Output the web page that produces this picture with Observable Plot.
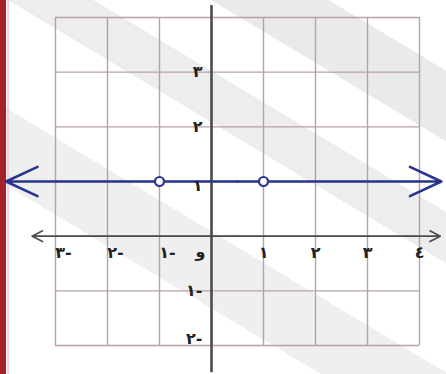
<!DOCTYPE html>
<html>
<head>
<meta charset="utf-8">
<script src="https://cdn.jsdelivr.net/npm/d3@7"></script>
<script src="https://cdn.jsdelivr.net/npm/@observablehq/plot@0.6"></script>
<style>
  html, body { margin: 0; padding: 0; background: #fff; }
  #wrap {
    position: relative; width: 446px; height: 374px; overflow: hidden;
    background: linear-gradient(31deg,
      transparent 30%, #efefef 30%, #efefef 42%, transparent 42%,
      transparent 59%, #ededed 59%, #ededed 67%, transparent 67%,
      transparent 78%, #eaeaea 78%, #eaeaea 89%, transparent 89%);
  }
  #bar { position: absolute; left: 0; top: 0; width: 6px; height: 374px; background: #a3202c; }
  #bar2 { position: absolute; left: 7px; top: 0; width: 2px; height: 374px; background: #f3d3d8; }
  #wrap svg { position: absolute; left: 0; top: 0; }
</style>
</head>
<body>
<div id="wrap"><div id="bar"></div><div id="bar2"></div></div>
<script>
// grid values
const xGrid = [-3, -2, -1, 0, 1, 2, 3, 4];
const yGrid = [-2, -1, 0, 1, 2, 3, 4];
// tick labels (Arabic numerals, origin labelled "و")
const xNegTicks = [-3, -2, -1];
const xNegLabels = ["٣-", "٢-", "١-"];
const xPosTicks = [1, 2, 3, 4];
const xPosLabels = ["١", "٢", "٣", "٤"];
const originLabel = "و";
const yTicks = [3, 2, -1];
const yLabels = ["٣", "٢", "١-"];
const yOneLabel = "١";
const yBottomLabel = "٢-";
// the graphed function: horizontal line y = 1 with holes at x = -1 and x = 1
const lineY = 1;
const lineLeft = -3.95, lineRight = 4.42;
const holesX = [-1, 1];
// axes extents
const xAxisLeft = -3.45, xAxisRight = 4.4;
const yAxisBottom = -2.5, yAxisTop = 4.22;

const blue = "#2a3591";
const gridColor = "#b99fab";
const axisColor = "#4d4d4d";
const font = { fontSize: 16, fontWeight: "bold", fill: "#222", fontFamily: "DejaVu Sans" };

const chart = Plot.plot({
  width: 446,
  height: 374,
  marginLeft: 55,
  marginRight: 27,
  marginTop: 17,
  marginBottom: 29,
  x: { domain: [-3, 4], axis: null },
  y: { domain: [-2, 4], axis: null },
  style: { background: "transparent", overflow: "visible" },
  marks: [
    Plot.ruleX(xGrid, { stroke: gridColor, strokeWidth: 1.4 }),
    Plot.ruleY(yGrid, { stroke: gridColor, strokeWidth: 1.4 }),
    // x axis (double arrow)
    Plot.arrow([{ a: 0.5, b: xAxisLeft }, { a: 0.5, b: xAxisRight }], {
      x1: "a", x2: "b", y1: () => 0, y2: () => 0,
      stroke: axisColor, strokeWidth: 1.6, headLength: 11, headAngle: 55
    }),
    // y axis
    Plot.ruleX([0], { y1: yAxisBottom, y2: yAxisTop, stroke: axisColor, strokeWidth: 2.6 }),
    // blue line with arrows both ends
    Plot.arrow([{ a: 0.5, b: lineLeft }, { a: 0.5, b: lineRight }], {
      x1: "a", x2: "b", y1: () => lineY, y2: () => lineY,
      stroke: blue, strokeWidth: 2.6, headLength: 20, headAngle: 50
    }),
    Plot.dot(holesX, { x: d => d, y: () => lineY, r: 4.5, fill: "white", stroke: blue, strokeWidth: 2.2 }),
    // x tick labels
    Plot.text(xNegTicks, { x: d => d, y: () => 0, text: (d, i) => xNegLabels[i], dy: 17, dx: 8, ...font }),
    Plot.text(xPosTicks, { x: d => d, y: () => 0, text: (d, i) => xPosLabels[i], dy: 17, ...font }),
    Plot.text([0], { x: d => d, y: () => 0, text: () => originLabel, dy: 16, dx: -11, ...font }),
    // y tick labels
    Plot.text(yTicks, { x: () => 0, y: d => d, text: (d, i) => yLabels[i], dx: -9, textAnchor: "end", ...font }),
    Plot.text([1], { x: () => 0, y: d => d, text: () => yOneLabel, dx: -9, dy: 4, textAnchor: "end", ...font }),
    Plot.text([-2], { x: () => 0, y: d => d, text: () => yBottomLabel, dx: -9, dy: -7, textAnchor: "end", ...font })
  ]
});
document.getElementById("wrap").appendChild(chart);
</script>
</body>
</html>
